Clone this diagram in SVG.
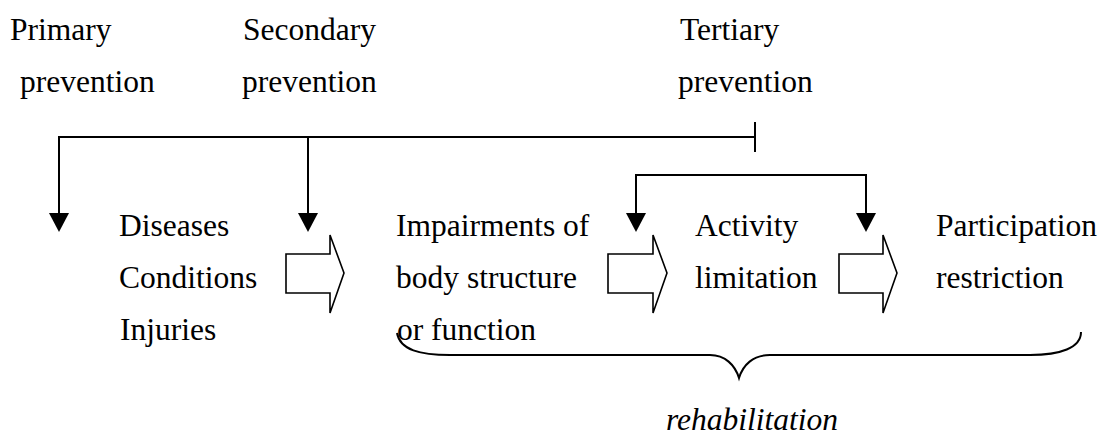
<svg xmlns="http://www.w3.org/2000/svg" width="1101" height="441" viewBox="0 0 1101 441">
<defs>
<style>
.t{font-family:'Liberation Serif','DejaVu Serif',serif;font-size:31.5px;fill:#000}
.it{font-style:italic}
.ln{fill:none;stroke:#000;stroke-width:2}
.head{fill:#000;stroke:none}
.blk{fill:#fff;stroke:#000;stroke-width:1.6;stroke-linejoin:miter}
</style>
</defs>
<rect width="1101" height="441" fill="#fff"/>
<g class="t" font-family="Liberation Serif, serif">
<g id="primary"><text x="10" y="40">Primary</text><text x="20" y="92">prevention</text></g>
<g id="secondary"><text x="243" y="40">Secondary</text><text x="242" y="92">prevention</text></g>
<g id="tertiary"><text x="680" y="40">Tertiary</text><text x="678" y="92">prevention</text></g>
<g id="diseases"><text x="119" y="236">Diseases</text><text x="119" y="288">Conditions</text><text x="120" y="340">Injuries</text></g>
<g id="impairments"><text x="396" y="236">Impairments of</text><text x="396" y="288">body structure</text><text x="397" y="340">or function</text></g>
<g id="activity"><text x="695" y="236">Activity</text><text x="695" y="288">limitation</text></g>
<g id="participation"><text x="936" y="236">Participation</text><text x="936" y="288">restriction</text></g>
<g id="rehabilitation"><path class="ln" d="M397,333 C400,350 420,355 450,355 L710,355 C725,355 735,365 739,378 C743,365 753,355 770,355 L1030,355 C1060,355 1081,348 1081,332"/><text class="it" x="666" y="430">rehabilitation</text></g>
</g>
<g id="connectors">
<path class="ln" d="M755,122 V152 M755,137 H59 V214 M308,137 V214"/>
<polygon class="head" points="49,213 69,213 59,232"/>
<polygon class="head" points="298,213 318,213 308,232"/>
<path class="ln" d="M636,214 V175 H866 V214"/>
<polygon class="head" points="626,213 646,213 636,232"/>
<polygon class="head" points="856,213 876,213 866,232"/>
<polygon class="blk" points="286,254 330,254 330,235 344,273 330,313 330,293 286,293"/>
<polygon class="blk" points="608,254 653,254 653,235 667,273 653,313 653,293 608,293"/>
<polygon class="blk" points="839,254 883,254 883,235 897,273 883,313 883,293 839,293"/>
</g>
</svg>
